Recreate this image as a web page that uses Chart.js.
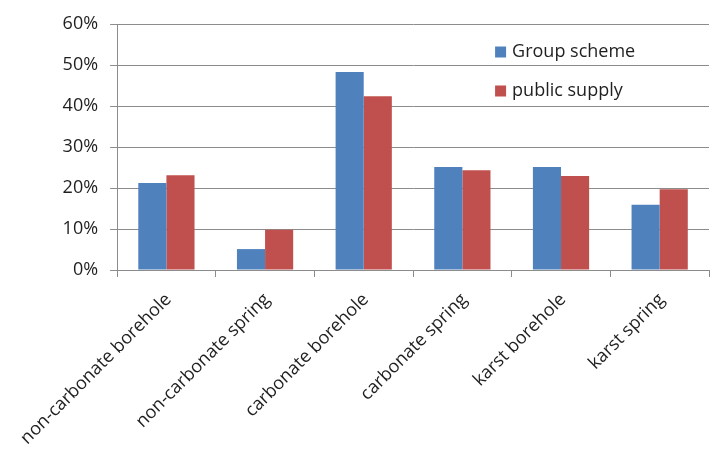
<!DOCTYPE html>
<html>
<head>
<meta charset="utf-8">
<script src="https://cdn.jsdelivr.net/npm/chart.js@4/dist/chart.umd.min.js"></script>
<style>
  html, body { margin: 0; padding: 0; background: #ffffff; }
  #wrap { width: 710px; height: 451px; }
</style>
</head>
<body>
<div id="wrap"><canvas id="chart" width="710" height="451"></canvas></div>
<script>
// Source categories and their shares (percent)
const categories = [
  'non-carbonate borehole',
  'non-carbonate spring',
  'carbonate borehole',
  'carbonate spring',
  'karst borehole',
  'karst spring'
];
const groupScheme = [21.2, 5.1, 48.3, 25.1, 25.1, 15.9];
const publicSupply = [23.1, 9.8, 42.4, 24.3, 22.9, 19.7];
const seriesNames = ['Group scheme', 'public supply'];
const yTicks = [0, 10, 20, 30, 40, 50, 60];

const FONT = "'Open Sans', 'Liberation Sans', sans-serif";
const TEXT = '#1f1f1f';
const GRID = '#8c8c8c';

// Legend drawn inside the plot area, top right
const innerLegend = {
  id: 'innerLegend',
  afterDraw(chart) {
    const ctx = chart.ctx;
    const area = chart.chartArea;
    ctx.save();
    ctx.font = '18px ' + FONT;
    ctx.textBaseline = 'middle';
    ctx.textAlign = 'left';
    chart.data.datasets.forEach((ds, i) => {
      const x = area.left + 378;
      const y = area.top + 28 + i * 39;
      ctx.fillStyle = ds.backgroundColor;
      ctx.fillRect(x, y - 5.5, 11, 11);
      ctx.fillStyle = TEXT;
      ctx.fillText(ds.label, x + 17, y);
    });
    ctx.restore();
  }
};

new Chart(document.getElementById('chart'), {
  type: 'bar',
  data: {
    labels: categories,
    datasets: [
      { label: seriesNames[0], data: groupScheme, backgroundColor: '#4F81BD', borderWidth: 0 },
      { label: seriesNames[1], data: publicSupply, backgroundColor: '#C0504D', borderWidth: 0 }
    ]
  },
  options: {
    responsive: false,
    animation: false,
    devicePixelRatio: 1,
    layout: { padding: { top: 24, right: 1, left: 0, bottom: 0 } },
    datasets: { bar: { categoryPercentage: 0.57, barPercentage: 1.0 } },
    plugins: {
      legend: { display: false },
      tooltip: { enabled: false },
      title: { display: false }
    },
    scales: {
      x: {
        grid: {
          offset: true,
          drawOnChartArea: false,
          drawTicks: true,
          tickLength: 7,
          color: GRID
        },
        border: { display: true, color: GRID, width: 1 },
        ticks: {
          color: TEXT,
          font: { family: FONT, size: 18 },
          minRotation: 45,
          maxRotation: 45,
          padding: 12,
          labelOffset: 2,
          autoSkip: false
        },
        afterFit(scale) { scale.height = 181; }
      },
      y: {
        min: 0,
        max: 60,
        afterBuildTicks(scale) { scale.ticks = yTicks.map(v => ({ value: v })); },
        grid: { color: GRID, tickLength: 7, drawTicks: true },
        border: { display: true, color: GRID, width: 1 },
        ticks: {
          color: TEXT,
          font: { family: FONT, size: 18 },
          padding: 12,
          callback: v => v + '%'
        },
        afterFit(scale) { scale.width = 117; }
      }
    }
  },
  plugins: [innerLegend]
});
</script>
</body>
</html>
